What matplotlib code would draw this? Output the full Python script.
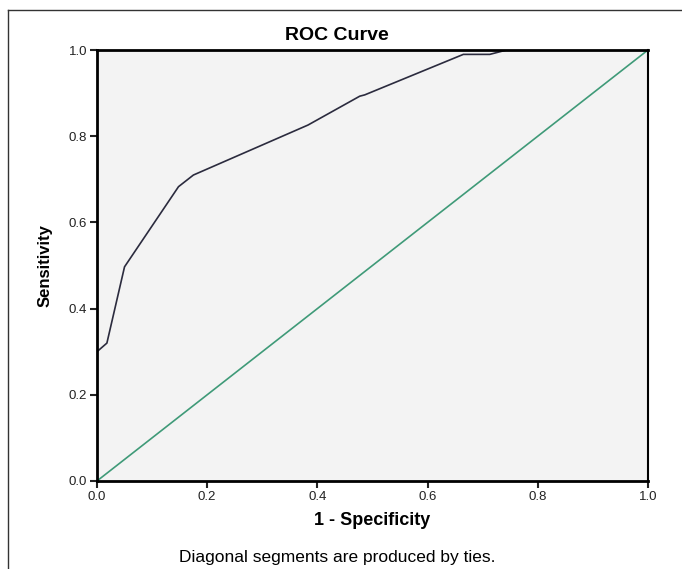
import matplotlib.pyplot as plt
from matplotlib.lines import Line2D

plt.rcParams['font.family'] = ['Liberation Sans', 'DejaVu Sans']

# ROC curve points
fpr = [0.0, 0.018, 0.05, 0.148, 0.175, 0.383, 0.477, 0.486, 0.665, 0.713, 0.743, 1.0]
tpr = [0.30, 0.32, 0.497, 0.683, 0.71, 0.826, 0.893, 0.896, 0.99, 0.99, 1.0, 1.0]
ref_line = [0.0, 1.0]
ticks = [0.0, 0.2, 0.4, 0.6, 0.8, 1.0]
tick_labels = ['0.0', '0.2', '0.4', '0.6', '0.8', '1.0']

fig = plt.figure(figsize=(6.82, 5.69), dpi=100)
ax = fig.add_axes([0.1422, 0.1547, 0.8078, 0.7573])
ax.set_facecolor('#f3f3f3')

ax.plot(ref_line, ref_line, color='#3f9a78', lw=1.2)
ax.plot(fpr, tpr, color='#2b2b3e', lw=1.2)

ax.set_xlim(0, 1)
ax.set_ylim(0, 1)
ax.set_xticks(ticks)
ax.set_xticklabels(tick_labels)
ax.set_yticks(ticks)
ax.set_yticklabels(tick_labels)
ax.tick_params(direction='out', length=5, width=1.5, labelsize=9.5, pad=2, colors='#222222')
for side in ['left', 'bottom', 'top']:
    ax.spines[side].set_linewidth(2)
ax.spines['right'].set_linewidth(1.5)

ax.set_xlabel('1 - Specificity', fontsize=13, fontweight='bold', labelpad=7)
ax.set_ylabel('Sensitivity', fontsize=12, fontweight='bold', labelpad=12)
fig.text(0.494, 0.938, 'ROC Curve', fontsize=14, fontweight='bold', ha='center', va='center')
fig.text(0.494, 0.021, 'Diagonal segments are produced by ties.', fontsize=12.5, ha='center', va='center')

# outer frame (left and top edges visible)
fig.add_artist(Line2D([0.012, 0.012], [0.0, 0.982], color='#333333', lw=1, transform=fig.transFigure))
fig.add_artist(Line2D([0.012, 1.0], [0.982, 0.982], color='#333333', lw=1, transform=fig.transFigure))

fig.savefig('out.png', dpi=100)
